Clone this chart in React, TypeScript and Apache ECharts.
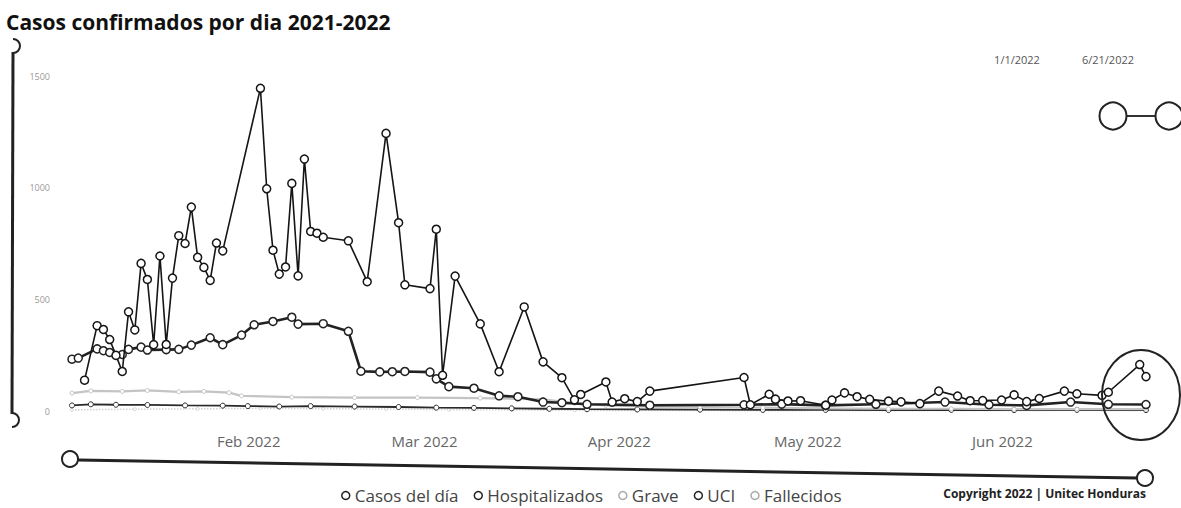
import React, { useEffect, useRef } from "react";
import * as echarts from "echarts";

// ---------- DATA ----------
const casosDates = [
  "2022-01-03","2022-01-05","2022-01-06","2022-01-07","2022-01-08","2022-01-09","2022-01-10","2022-01-11",
  "2022-01-12","2022-01-13","2022-01-14","2022-01-15","2022-01-16","2022-01-17","2022-01-18","2022-01-19",
  "2022-01-20","2022-01-21","2022-01-22","2022-01-23","2022-01-24","2022-01-25","2022-01-31","2022-02-01",
  "2022-02-02","2022-02-03","2022-02-04","2022-02-05","2022-02-06","2022-02-07","2022-02-08","2022-02-09",
  "2022-02-10","2022-02-14","2022-02-17","2022-02-20","2022-02-22","2022-02-23","2022-02-27","2022-02-28",
  "2022-03-01","2022-03-03","2022-03-07","2022-03-10","2022-03-14","2022-03-17","2022-03-20","2022-03-22",
  "2022-03-23","2022-03-27","2022-03-28","2022-03-30","2022-04-01","2022-04-03","2022-04-18","2022-04-19",
  "2022-04-22","2022-04-23","2022-04-25","2022-04-27","2022-05-01","2022-05-02","2022-05-04","2022-05-06",
  "2022-05-08","2022-05-11","2022-05-13","2022-05-16","2022-05-19","2022-05-22","2022-05-24","2022-05-26",
  "2022-05-29","2022-05-31","2022-06-02","2022-06-04","2022-06-08","2022-06-10","2022-06-14","2022-06-15",
  "2022-06-20","2022-06-21"
];
const casosValues = [
  138, 382, 365, 320, 249, 177, 444, 363,
  661, 589, 297, 694, 298, 595, 785, 750,
  913, 688, 643, 585, 752, 717, 1445, 995,
  720, 613, 645, 1019, 605, 1128, 804, 796,
  778, 762, 579, 1243, 843, 565, 548, 814,
  160, 604, 390, 176, 466, 220, 149, 50,
  74, 130, 40, 55, 42, 89, 150, 28,
  75, 53, 45, 46, 26, 49, 81, 64,
  52, 44, 41, 33, 89, 67, 46, 47,
  49, 72, 42, 56, 89, 77, 70, 84,
  208, 154
];

const hospDates = [
  "2022-01-01","2022-01-02","2022-01-05","2022-01-06","2022-01-07","2022-01-09","2022-01-10","2022-01-12",
  "2022-01-13","2022-01-16","2022-01-18","2022-01-20","2022-01-23","2022-01-25","2022-01-28","2022-01-30",
  "2022-02-02","2022-02-05","2022-02-06","2022-02-10","2022-02-14","2022-02-16","2022-02-19","2022-02-21",
  "2022-02-23","2022-02-27","2022-02-28","2022-03-02","2022-03-06","2022-03-10","2022-03-13","2022-03-17",
  "2022-03-20","2022-03-24","2022-04-03","2022-04-18","2022-04-24","2022-05-01","2022-05-09","2022-05-20",
  "2022-05-27","2022-06-02","2022-06-09","2022-06-15","2022-06-21"
];
const hospValues = [
  232, 237, 278, 270, 262, 253, 276, 286,
  273, 275, 276, 295, 328, 297, 340, 386,
  401, 420, 389, 391, 357, 178, 175, 176,
  177, 174, 144, 109, 102, 68, 64, 40,
  37, 30, 26, 28, 31, 25, 30, 40,
  28, 25, 40, 30, 29
];

const graveDates = [
  "2022-01-01","2022-01-04","2022-01-09","2022-01-13","2022-01-18","2022-01-22","2022-01-26","2022-01-28",
  "2022-02-05","2022-02-15","2022-02-25","2022-03-07","2022-03-17","2022-03-22","2022-03-27","2022-04-03",
  "2022-04-11","2022-04-21","2022-05-01","2022-05-11","2022-05-21","2022-05-31","2022-06-10","2022-06-21"
];
const graveValues = [80, 90, 88, 92, 86, 88, 82, 68, 62, 60, 60, 58, 52, 35, 25, 20, 18, 15, 12, 10, 10, 8, 8, 8];

const uciDates = [
  "2022-01-01","2022-01-04","2022-01-08","2022-01-13","2022-01-19","2022-01-25","2022-01-29","2022-02-03",
  "2022-02-08","2022-02-15","2022-02-22","2022-02-28","2022-03-06","2022-03-12","2022-03-18","2022-03-24",
  "2022-04-01","2022-04-11","2022-04-21","2022-05-01","2022-05-11","2022-05-21","2022-05-31","2022-06-10",
  "2022-06-21"
];
const uciValues = [25, 30, 28, 27, 25, 24, 22, 20, 22, 20, 18, 15, 14, 12, 10, 8, 7, 6, 5, 5, 4, 5, 4, 5, 4];

const fallDates = [
  "2022-01-01","2022-01-11","2022-01-21","2022-01-31","2022-02-10","2022-02-20","2022-03-02","2022-03-12",
  "2022-03-22","2022-04-01","2022-04-11","2022-04-21","2022-05-01","2022-05-11","2022-05-21","2022-05-31",
  "2022-06-10","2022-06-21"
];
const fallValues = [5, 8, 10, 12, 10, 9, 6, 5, 3, 2, 2, 1, 2, 1, 1, 1, 2, 1];

const seriesNames = ["Casos del día", "Hospitalizados", "Grave", "UCI", "Fallecidos"];
const xTickDates = ["2022-02-01", "2022-03-01", "2022-04-01", "2022-05-01", "2022-06-01"];
const xRange = ["2022-01-01", "2022-06-21"];
const yMin = 0;
const yMax = 1500;
const yInterval = 500;
const sliderLabels = ["1/1/2022", "6/21/2022"];
const titleText = "Casos confirmados por dia 2021-2022";
const copyrightText = "Copyright 2022 | Unitec Honduras";
const MONTHS = ["Jan", "Feb", "Mar", "Apr", "May", "Jun", "Jul", "Aug", "Sep", "Oct", "Nov", "Dec"];

// ---------- helpers ----------
const ts = (s: string) => {
  const [y, m, d] = s.split("-").map(Number);
  return new Date(y, m - 1, d).getTime();
};
const pairs = (dates: string[], vals: number[]) => dates.map((d, i) => [ts(d), vals[i]]);

const FONT = "'Open Sans', 'Noto Sans', 'DejaVu Sans', sans-serif";

export default function App() {
  const ref = useRef<HTMLDivElement>(null);

  useEffect(() => {
    document.body.style.margin = "0";
    if (!ref.current) return;
    const chart = echarts.init(ref.current, undefined, { renderer: "svg" });

    const styles = [
      { color: "#151515", width: 1.6, size: 8, type: "solid", legend: "#222" },
      { color: "#222", width: 2.6, size: 8, type: "solid", legend: "#222" },
      { color: "#c4c4c4", width: 2.2, size: 4, type: "solid", legend: "#aaa" },
      { color: "#2a2a2a", width: 1.8, size: 5, type: "solid", legend: "#222" },
      { color: "#d2d2d2", width: 1.5, size: 3, type: "dotted", legend: "#aaa" },
    ];
    const datasets = [
      pairs(casosDates, casosValues),
      pairs(hospDates, hospValues),
      pairs(graveDates, graveValues),
      pairs(uciDates, uciValues),
      pairs(fallDates, fallValues),
    ];

    const option: any = {
      animation: false,
      backgroundColor: "#fff",
      title: {
        text: titleText,
        left: 1,
        top: 6,
        textStyle: { fontSize: 21, fontWeight: "bold", color: "#111", fontFamily: FONT },
      },
      grid: { left: 72, right: 35, top: 76, bottom: 97 },
      legend: {
        data: seriesNames.map((n, i) => ({
          name: n,
          icon: "circle",
          itemStyle: { color: "#fff", borderColor: styles[i].legend, borderWidth: 1.5 },
        })),
        left: 336,
        top: 482,
        itemWidth: 8,
        itemHeight: 8,
        itemGap: 15,
        textStyle: { fontSize: 17, color: "#444", fontFamily: FONT },
      },
      xAxis: {
        type: "value",
        min: ts(xRange[0]),
        max: ts(xRange[1]),
        axisLine: { show: false },
        axisTick: { show: false },
        splitLine: { show: false },
        axisLabel: {
          customValues: xTickDates.map(ts),
          margin: 22,
          formatter: (v: number) => {
            const d = new Date(v);
            return "{a|" + MONTHS[d.getMonth()] + " " + d.getFullYear() + "}";
          },
          rich: {
            a: { fontSize: 15, color: "#666", fontFamily: FONT, padding: [0, 36, 0, 0] },
          },
        },
      },
      yAxis: {
        type: "value",
        min: yMin,
        max: yMax,
        interval: yInterval,
        axisLine: { show: false },
        axisTick: { show: false },
        splitLine: { show: false },
        axisLabel: { fontSize: 9, color: "#999", margin: 22, fontFamily: FONT, formatter: (v: number) => String(v) },
      },
      series: seriesNames.map((n, i) => ({
        name: n,
        type: "line",
        data: datasets[i],
        color: styles[i].color,
        symbol: "circle",
        symbolSize: styles[i].size,
        showSymbol: true,
        z: 10 - i,
        lineStyle: { color: styles[i].color, width: styles[i].width, type: styles[i].type },
        itemStyle: { color: "#fff", borderColor: styles[i].color, borderWidth: i < 2 ? 1.5 : 1 },
        emphasis: { disabled: true },
      })),
      graphic: [
        { type: "line", shape: { x1: 13, y1: 52, x2: 12, y2: 414 }, style: { stroke: "#222", lineWidth: 3 } },
        { type: "arc", shape: { cx: 13, cy: 46, r: 7, startAngle: -Math.PI / 2, endAngle: Math.PI / 2 }, style: { stroke: "#222", lineWidth: 2, fill: null } },
        { type: "arc", shape: { cx: 12, cy: 420, r: 7, startAngle: -Math.PI / 2, endAngle: Math.PI / 2 }, style: { stroke: "#222", lineWidth: 2, fill: null } },
        { type: "text", style: { text: sliderLabels[0], x: 1017, y: 59, align: "center", verticalAlign: "middle", fontSize: 11, fill: "#555", fontFamily: FONT } },
        { type: "text", style: { text: sliderLabels[1], x: 1108, y: 59, align: "center", verticalAlign: "middle", fontSize: 11, fill: "#555", fontFamily: FONT } },
        { type: "line", shape: { x1: 1127, y1: 116, x2: 1156, y2: 116 }, style: { stroke: "#333", lineWidth: 2 } },
        { type: "circle", shape: { cx: 1113, cy: 116, r: 13.5 }, style: { stroke: "#222", lineWidth: 2, fill: "#fff" } },
        { type: "circle", shape: { cx: 1169, cy: 116, r: 13.5 }, style: { stroke: "#222", lineWidth: 2, fill: "#fff" } },
        { type: "line", shape: { x1: 78, y1: 460, x2: 1137, y2: 478 }, style: { stroke: "#222", lineWidth: 3 } },
        { type: "circle", shape: { cx: 70, cy: 459, r: 8 }, style: { stroke: "#222", lineWidth: 2, fill: "#fff" } },
        { type: "circle", shape: { cx: 1145, cy: 478, r: 8 }, style: { stroke: "#222", lineWidth: 2, fill: "#fff" } },
        { type: "ellipse", shape: { cx: 1141, cy: 395, rx: 39, ry: 45 }, style: { stroke: "#222", lineWidth: 2, fill: null }, z: 100 },
        { type: "text", style: { text: copyrightText, x: 1146, y: 493, align: "right", verticalAlign: "middle", fontSize: 12, fontWeight: "bold", fill: "#222", fontFamily: FONT } },
      ],
    };

    chart.setOption(option);
    return () => chart.dispose();
  }, []);

  return <div ref={ref} style={{ width: 1181, height: 508 }} />;
}
